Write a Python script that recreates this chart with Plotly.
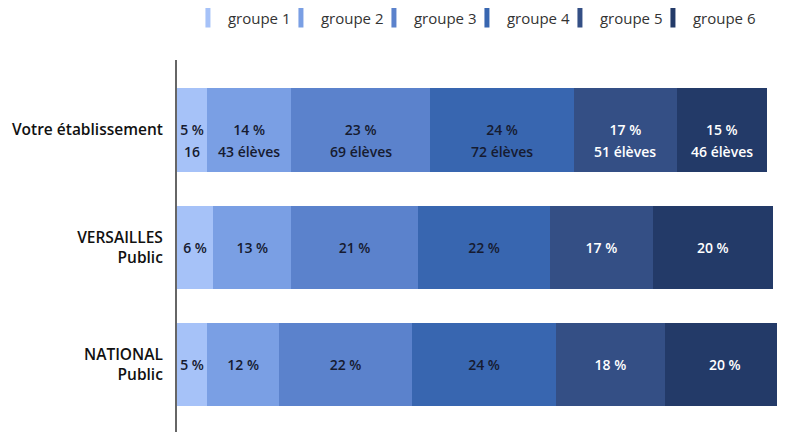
import plotly.graph_objects as go

categories = ["Votre établissement", "VERSAILLES<br>Public", "NATIONAL<br>Public"]
groups = ["groupe 1", "groupe 2", "groupe 3", "groupe 4", "groupe 5", "groupe 6"]

groupe_1 = [5, 6, 5]
groupe_2 = [14, 13, 12]
groupe_3 = [23, 21, 22]
groupe_4 = [24, 22, 24]
groupe_5 = [17, 17, 18]
groupe_6 = [15, 20, 20]
series = [groupe_1, groupe_2, groupe_3, groupe_4, groupe_5, groupe_6]

eleves_etab = [16, 43, 69, 72, 51, 46]

colors = ["#a6c2f8", "#7a9fe4", "#5b82cc", "#3866b0", "#344f85", "#233a68"]
text_colors = ["#161b30", "#161b30", "#161b30", "#161b30", "#ffffff", "#ffffff"]

FONT = "Open Sans"
LABEL_SIZE = 14

fig = go.Figure()
cum = [0, 0, 0]
for gi, (name, vals) in enumerate(zip(groups, series)):
    fig.add_trace(go.Bar(
        name=name,
        y=categories,
        x=vals,
        orientation="h",
        marker=dict(color=colors[gi], line=dict(width=0)),
        text=[f"{v} %" for v in vals],
        textposition="inside",
        insidetextanchor="middle",
        textangle=0,
        constraintext="none",
        textfont=dict(family=FONT, size=LABEL_SIZE, color=text_colors[gi], weight=600),
        hoverinfo="skip",
        showlegend=False,
    ))
    # number of pupils under the percentage, first row only
    n = eleves_etab[gi]
    fig.add_annotation(
        x=cum[0] + vals[0] / 2, y=categories[0],
        xref="x", yref="y",
        text=f"{n}" if gi == 0 else f"{n} élèves",
        showarrow=False, yshift=-22,
        font=dict(family=FONT, size=LABEL_SIZE, color=text_colors[gi], weight=600),
    )
    for ci in range(3):
        cum[ci] += vals[ci]
    # legend entry: narrow vertical swatch
    fig.add_trace(go.Scatter(
        name=name, x=[None], y=[None], mode="markers",
        marker=dict(symbol="line-ns", size=14, color=colors[gi],
                    line=dict(color=colors[gi], width=6)),
        legendwidth=48 if gi < len(groups) - 1 else 75,
        hoverinfo="skip", showlegend=True,
    ))

fig.update_layout(
    barmode="stack",
    bargap=0.29,
    width=785,
    height=432,
    margin=dict(l=169, r=8, t=52, b=8, autoexpand=False),
    paper_bgcolor="white",
    plot_bgcolor="white",
    font=dict(family=FONT),
    showlegend=True,
    legend=dict(
        orientation="h",
        x=0.018, xanchor="left",
        yref="container", y=0.977, yanchor="middle",
        font=dict(family=FONT, size=15, color="#333333"),
        entrywidthmode="pixels",
        traceorder="normal",
    ),
    xaxis=dict(visible=False, range=[0, 101], fixedrange=True),
    yaxis=dict(
        range=[2.574, -0.596],
        showline=True, linecolor="#666666", linewidth=2,
        showgrid=False, zeroline=False,
        ticks="", ticklabelstandoff=9,
        tickfont=dict(family=FONT, size=15.5, color="#111111", weight=600),
    ),
)

fig.write_html("out.html")
